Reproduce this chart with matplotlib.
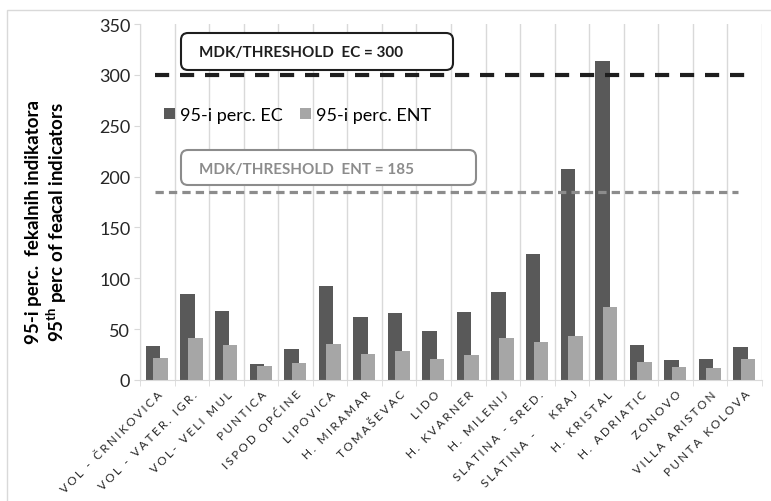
import numpy as np
import matplotlib
matplotlib.use("Agg")
import matplotlib.pyplot as plt
from matplotlib.patches import FancyBboxPatch, Rectangle
from matplotlib.transforms import IdentityTransform

plt.rcParams['font.family'] = ['Lato', 'DejaVu Sans']
plt.rcParams['mathtext.fontset'] = 'custom'
plt.rcParams['mathtext.bf'] = 'Lato:bold'
plt.rcParams['mathtext.rm'] = 'Lato'

sites = ["VOL - ČRNIKOVICA", "VOL - VATER. IGR.", "VOL- VELI MUL", "PUNTICA",
         "ISPOD OPĆINE", "LIPOVICA", "H. MIRAMAR", "TOMAŠEVAC", "LIDO",
         "H. KVARNER", "H. MILENIJ", "SLATINA - SRED.", "SLATINA -    KRAJ",
         "H. KRISTAL", "H. ADRIATIC", "ZONOVO", "VILLA ARISTON", "PUNTA KOLOVA"]
ec = [33, 85, 68, 16, 30.5, 92, 62, 66, 48, 67, 87, 123.5, 207.5, 314, 34, 19.5, 20.5, 32]
ent = [22, 41, 34, 13.5, 17, 35, 26, 28.5, 21, 25, 41, 37.5, 43, 71.5, 18, 13, 11.5, 21]
thr_ec = 300
thr_ent = 185

W, H = 771, 502
fig = plt.figure(figsize=(W / 100, H / 100), dpi=100)
ax = fig.add_axes([140 / W, 1 - 381 / H, 622 / W, 356 / H])

x = np.arange(len(sites))
bw = 0.42
ax.bar(x - 0.12, ec, bw, color='#595959', label='95-i perc. EC', zorder=2)
ax.bar(x + 0.10, ent, bw, color='#a6a6a6', label='95-i perc. ENT', zorder=3)

ax.plot([-0.07, 17.07], [thr_ec, thr_ec], color='#1e1e1e', lw=3,
        ls=(0, (3.4, 2.6)), zorder=4)
ax.plot([-0.07, 16.8], [thr_ent, thr_ent], color='#8c8c8c', lw=2.3,
        ls=(0, (2.6, 1.6)), zorder=4)

ax.set_xlim(-0.5, len(sites) - 0.5)
ax.set_ylim(0, 350)
ax.set_yticks(np.arange(0, 351, 50))
ax.tick_params(axis='y', labelsize=13, length=4, color='#d9d9d9',
               labelcolor='#262626', pad=3)

# wide letter spacing like the original axis labels
spaced = ['\u2009\u200a'.join(s) for s in sites]
ax.set_xticks(x)
ax.set_xticklabels(spaced, rotation=45, ha='right', rotation_mode='anchor',
                   fontsize=8.5, color='#262626')
ax.tick_params(axis='x', which='major', length=0, pad=6)
ax.set_xticks(np.arange(-0.5, len(sites), 1), minor=True)
ax.tick_params(axis='x', which='minor', length=4, color='#d9d9d9')
ax.grid(axis='x', which='minor', color='#d9d9d9', lw=1, zorder=0)
ax.set_axisbelow(True)

for s in ['top', 'right']:
    ax.spines[s].set_visible(False)
for s in ['left', 'bottom']:
    ax.spines[s].set_color('#d9d9d9')

ax.legend(loc='center left', bbox_to_anchor=(148 / W, 1 - 116 / H),
          bbox_transform=fig.transFigure, ncol=2, frameon=False,
          fontsize=13, handlelength=0.6, handleheight=0.6,
          handletextpad=0.25, columnspacing=1.0)

# threshold boxes (pixel coords, y from bottom)
def box(x0, y0, x1, y1, ec_col, txt, tx, ty):
    p = FancyBboxPatch((x0, H - y1), x1 - x0, y1 - y0,
                       boxstyle="round,pad=0,rounding_size=7",
                       transform=IdentityTransform(), fc='white',
                       ec=ec_col, lw=1.5, zorder=5)
    fig.add_artist(p)
    fig.text(tx / W, 1 - ty / H, txt, color=ec_col, fontsize=11,
             fontweight='bold', va='center', ha='left', zorder=6)

box(181, 34, 453, 71, '#1e1e1e', 'MDK/THRESHOLD  EC = 300', 199, 53)
box(181, 151, 476, 186, '#8c8c8c', 'MDK/THRESHOLD  ENT = 185', 199, 170)

fig.text(47 / W, 1 - 222 / H,
         "95-i perc.  fekalnih indikatora\n95$^{\\mathbf{th}}$ perc of feacal indicators",
         rotation=90, ha='center', va='center', multialignment='center',
         fontsize=13.5, fontweight='bold', color='#000000', linespacing=1.1)

fig.add_artist(Rectangle((7, -10), W, H - 11 + 10, transform=IdentityTransform(),
                         fill=False, ec='#d9d9d9', lw=1))

fig.savefig('out.png', dpi=100)
